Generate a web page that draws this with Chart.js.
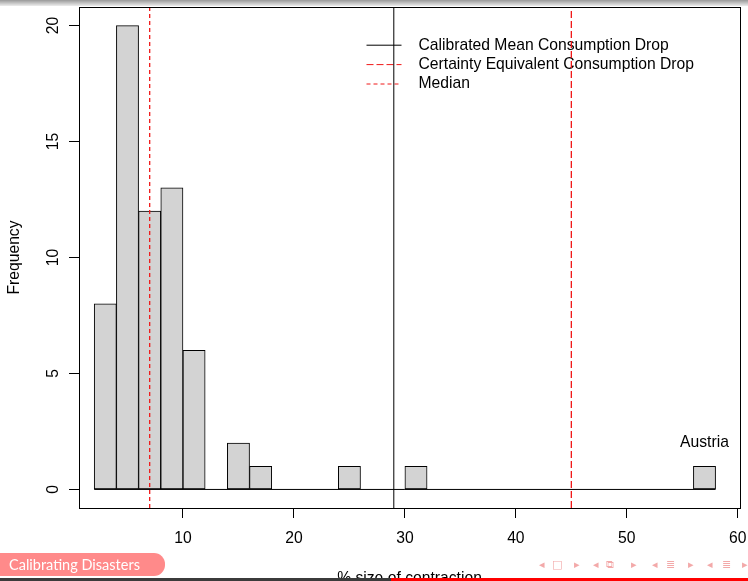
<!DOCTYPE html>
<html>
<head>
<meta charset="utf-8">
<script src="https://cdn.jsdelivr.net/npm/chart.js@4.4.1/dist/chart.umd.min.js"></script>
<style>
  html, body { margin: 0; padding: 0; background: #fff; }
  #wrap { position: relative; width: 748px; height: 581px; overflow: hidden; background: #fff; }
  #c { position: absolute; left: 0; top: 0; }
  .topbar { position: absolute; left: 0; top: 0; width: 748px; height: 6px; background: linear-gradient(#999999, #ededed); }
  .foot-l { position: absolute; left: 0; top: 578px; width: 391px; height: 3px; background: #3b3b3b; }
  .foot-r { position: absolute; left: 391px; top: 578px; width: 357px; height: 3px; background: #ff0000; }
  .pill { position: absolute; left: -12px; top: 553px; width: 177px; height: 23px; background: #ff8a8a; border-radius: 11px; }
  .pill-text { position: absolute; left: 9px; top: 555px; color: #fff; font: 14.5px Lato, 'DejaVu Sans', sans-serif; line-height: 20px; white-space: nowrap; }
  .pill-dash { position: absolute; left: -3px; top: 555px; color: #fff; font: 14px Lato, sans-serif; line-height: 20px; }
  .nav { position: absolute; top: 557px; color: #f3a9a9; font: 11px 'DejaVu Sans', sans-serif; line-height: 15px; white-space: nowrap; }
</style>
</head>
<body>
<div id="wrap">
  <canvas id="c" width="748" height="581"></canvas>
  <div class="topbar"></div>
  <div class="pill"></div>
  <div class="pill-dash">·</div>
  <div class="pill-text">Calibrating Disasters</div>
  <div class="nav" style="left:539px">◂</div>
  <div class="nav" style="left:552px">□</div>
  <div class="nav" style="left:574px">▸</div>
  <div class="nav" style="left:593px">◂</div>
  <div class="nav" style="left:606px">⧉</div>
  <div class="nav" style="left:631px">▸</div>
  <div class="nav" style="left:652px">◂</div>
  <div class="nav" style="left:666px">≣</div>
  <div class="nav" style="left:688px">▸</div>
  <div class="nav" style="left:707px">◂</div>
  <div class="nav" style="left:722px">≣</div>
  <div class="nav" style="left:742px">▸</div>
  <div class="foot-l"></div>
  <div class="foot-r"></div>
</div>
<script>
// ---- data ----
const BREAKS = [2,4,6,8,10,12,14,16,18,20,22,24,26,28,30,32,34,36,38,40,42,44,46,48,50,52,54,56,58];
const COUNTS = [8,20,12,13,6,0,2,1,0,0,0,1,0,0,1,0,0,0,0,0,0,0,0,0,0,0,0,1];
const REF_LABELS = ['Calibrated Mean Consumption Drop', 'Certainty Equivalent Consumption Drop', 'Median'];
const REF_VALUES = [29.0, 45.0, 7.0];
const NOTE_LABELS = ['Austria'];
const NOTE_X = [57];
const NOTE_Y = [2];
const X_TICK_STEP = 10;
const Y_TICK_STEP = 5;
const X_TITLE = '% size of contraction';
const Y_TITLE = 'Frequency';

// axis limits (R style 4% extension)
const X_MIN = 0.63, X_MAX = 60.2;
const Y_MIN = -0.8, Y_MAX = 20.8;

const FAMILY = "'Liberation Sans', Arial, Helvetica, sans-serif";
const FSIZE = 15.7;
const REF_STYLES = [
  { color: '#000000', dash: [], width: 1 },
  { color: '#f01818', dash: [7, 3], width: 1.3 },
  { color: '#f01818', dash: [4, 3], width: 1.3 }
];

const histData = COUNTS.map((c, i) => ({ x: (BREAKS[i] + BREAKS[i + 1]) / 2, y: c }));

const datasets = [
  {
    type: 'bar',
    label: 'hist',
    data: histData,
    backgroundColor: '#d3d3d3',
    borderColor: '#000000',
    borderWidth: 1,
    borderSkipped: false,
    barPercentage: 1,
    categoryPercentage: 1,
    order: 3
  },
  {
    type: 'line',
    label: 'baseline',
    data: [{ x: BREAKS[0], y: 0 }, { x: BREAKS[BREAKS.length - 1], y: 0 }],
    borderColor: '#000000',
    borderWidth: 1,
    pointRadius: 0,
    fill: false,
    order: 2
  }
];
REF_VALUES.forEach((v, i) => {
  datasets.push({
    type: 'line',
    label: REF_LABELS[i],
    inLegend: true,
    data: [{ x: v, y: Y_MIN }, { x: v, y: Y_MAX }],
    borderColor: REF_STYLES[i].color,
    borderDash: REF_STYLES[i].dash,
    borderWidth: REF_STYLES[i].width,
    pointRadius: 0,
    fill: false,
    order: 1
  });
});

const decor = {
  id: 'decor',
  beforeDatasetsDraw(chart) {
    const { ctx, scales: { x, y } } = chart;
    ctx.save();
    ctx.font = FSIZE + 'px ' + FAMILY;
    ctx.fillStyle = '#000';
    ctx.textAlign = 'center';
    ctx.textBaseline = 'middle';
    NOTE_LABELS.forEach((t, i) => {
      ctx.fillText(t, x.getPixelForValue(NOTE_X[i]), y.getPixelForValue(NOTE_Y[i]));
    });
    // legend (R style, no box)
    const items = chart.data.datasets.filter(d => d.inLegend);
    const lx = 366.5, ly = 45.2, dy = 19.4;
    items.forEach((d, i) => {
      const yy = ly + i * dy;
      ctx.strokeStyle = REF_STYLES[i].color;
      ctx.lineWidth = 1;
      ctx.setLineDash(REF_STYLES[i].dash);
      ctx.beginPath();
      ctx.moveTo(lx, yy);
      ctx.lineTo(lx + 35, yy);
      ctx.stroke();
      ctx.setLineDash([]);
      ctx.textAlign = 'left';
      ctx.fillText(d.label, lx + 52, yy);
    });
    ctx.restore();
  },
  afterDraw(chart) {
    const { ctx, chartArea: a } = chart;
    ctx.save();
    ctx.strokeStyle = '#000';
    ctx.lineWidth = 1;
    ctx.strokeRect(Math.round(a.left) + 0.5, Math.round(a.top) + 0.5,
                   Math.round(a.right - a.left), Math.round(a.bottom - a.top));
    ctx.restore();
  }
};

Chart.defaults.color = '#000';
Chart.defaults.font.family = FAMILY;
Chart.defaults.font.size = FSIZE;

new Chart(document.getElementById('c'), {
  type: 'bar',
  data: { datasets },
  plugins: [decor],
  options: {
    responsive: false,
    devicePixelRatio: 1,
    animation: false,
    layout: { padding: { left: 0, top: 7, right: 8, bottom: 0 } },
    plugins: { legend: { display: false }, tooltip: { enabled: false } },
    scales: {
      x: {
        type: 'linear',
        position: 'bottom',
        offset: false,
        min: X_MIN,
        max: X_MAX,
        grid: { offset: false, drawOnChartArea: false, drawTicks: true, tickLength: 10, color: '#000', tickColor: '#000', lineWidth: 1 },
        border: { display: true, color: '#000', width: 1 },
        ticks: { stepSize: X_TICK_STEP, includeBounds: false, maxRotation: 0, minRotation: 0, padding: 11, color: '#000', font: { size: FSIZE, family: FAMILY } },
        title: { display: true, text: X_TITLE, color: '#000', font: { size: FSIZE, family: FAMILY }, padding: { top: 0, bottom: -7 } },
        afterFit(s) { s.height = 73; s.paddingLeft = 0; s.paddingRight = 0; }
      },
      y: {
        type: 'linear',
        position: 'left',
        min: Y_MIN,
        max: Y_MAX,
        grid: { drawOnChartArea: false, drawTicks: true, tickLength: 10, color: '#000', tickColor: '#000', lineWidth: 1 },
        border: { display: true, color: '#000', width: 1 },
        ticks: { stepSize: Y_TICK_STEP, includeBounds: false, minRotation: 90, maxRotation: 90, crossAlign: 'center', padding: 6.3, color: '#000', font: { size: FSIZE, family: FAMILY } },
        title: { display: true, text: Y_TITLE, color: '#000', font: { size: FSIZE, family: FAMILY }, padding: { top: 5.4, bottom: 0 } },
        afterFit(s) { s.width = 79; s.paddingTop = 0; s.paddingBottom = 0; }
      }
    }
  }
});
</script>
</body>
</html>
